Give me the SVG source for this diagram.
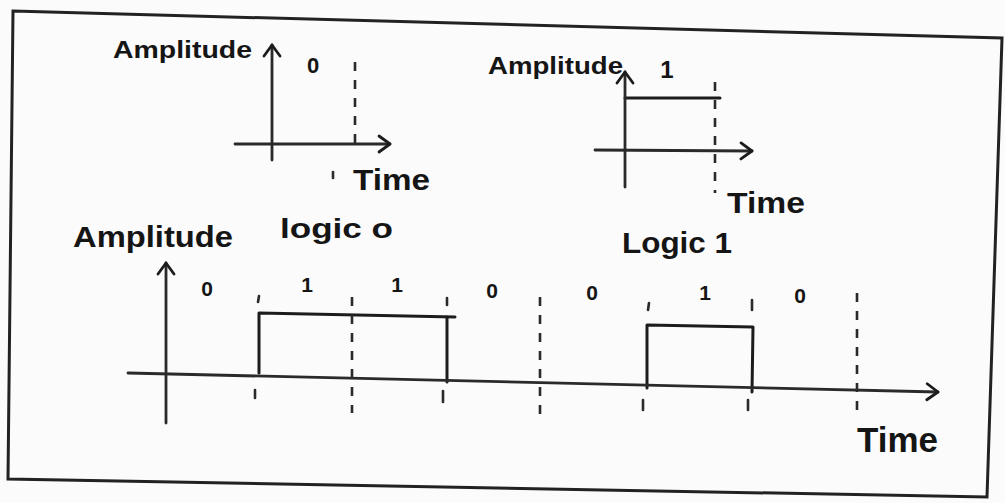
<svg xmlns="http://www.w3.org/2000/svg" width="1005" height="503" viewBox="0 0 1005 503">
  <defs>
    <style>
      .ln { stroke: #1c1c1c; stroke-width: 3; fill: none; stroke-linecap: round; stroke-linejoin: round; }
      .ax { stroke: #2a2a2a; stroke-width: 2.8; fill: none; stroke-linecap: round; }
      .dash { stroke: #2a2a2a; stroke-width: 2.6; fill: none; stroke-dasharray: 9 9; }
      .tick { stroke: #2a2a2a; stroke-width: 2.6; fill: none; stroke-linecap: round; }
      .t { font-family: "Liberation Sans", Arial, sans-serif; fill: #151515; font-weight: bold; }
      .n { font-family: "Liberation Sans", Arial, sans-serif; fill: #151515; font-weight: bold; text-anchor: middle; }
    </style>
    <marker id="chev" viewBox="-14 -10 16 20" refX="0" refY="0" markerWidth="16" markerHeight="20" markerUnits="userSpaceOnUse" orient="auto">
      <polyline points="-11,-8 0,0 -11,8" fill="none" stroke="#1c1c1c" stroke-width="2.8" stroke-linecap="round" stroke-linejoin="round"/>
    </marker>
  </defs>
  <rect x="0" y="0" width="1005" height="503" fill="#fbfbfb"/>

  <g id="frame">
    <polygon points="13,11 1002,38 987,497 8,479" fill="none" stroke="#222" stroke-width="3"/>
  </g>

  <g id="graph-logic0">
    <text class="t" x="113" y="58" font-size="24" textLength="139" lengthAdjust="spacingAndGlyphs">Amplitude</text>
    <text class="n" x="313" y="73" font-size="22">0</text>
    <text class="t" x="353" y="190" font-size="29" textLength="77" lengthAdjust="spacingAndGlyphs">Time</text>
  </g>

  <g id="graph-logic1">
    <text class="t" x="488" y="74" font-size="24" textLength="135" lengthAdjust="spacingAndGlyphs">Amplitude</text>
    <text class="n" x="667" y="78" font-size="24">1</text>
    <text class="t" x="727" y="213" font-size="29" textLength="78" lengthAdjust="spacingAndGlyphs">Time</text>
    <polyline class="ln" points="625,98 720,98"/>
  </g>

  <g id="graph-line-code">
    <text class="t" x="73" y="247" font-size="30" textLength="160" lengthAdjust="spacingAndGlyphs">Amplitude</text>
    <text class="t" x="280" y="238" font-size="27" textLength="113" lengthAdjust="spacingAndGlyphs">logic o</text>
    <text class="t" x="622" y="253" font-size="29" textLength="110" lengthAdjust="spacingAndGlyphs">Logic 1</text>
    <text class="n" x="207" y="296" font-size="21">0</text>
    <text class="n" x="307" y="292" font-size="21">1</text>
    <text class="n" x="397" y="292" font-size="21">1</text>
    <text class="n" x="492" y="298" font-size="21">0</text>
    <text class="n" x="592" y="300" font-size="21">0</text>
    <text class="n" x="705" y="300" font-size="21">1</text>
    <text class="n" x="800" y="303" font-size="21">0</text>
    <text class="t" x="857" y="452" font-size="35" textLength="81" lengthAdjust="spacingAndGlyphs">Time</text>
    <polyline class="ln" points="259,373 259,313 455,317"/>
    <polyline class="ln" points="447,317 447,382"/>
    <polyline class="ln" points="647,388 647,325 753,327 752,392"/>
  </g>

  <g id="connectors">
    <line class="ax" x1="272" y1="160" x2="272" y2="45" marker-end="url(#chev)"/>
    <line class="ax" x1="235" y1="144" x2="390" y2="144" marker-end="url(#chev)"/>
    <line class="dash" x1="355" y1="62" x2="355" y2="143"/>
    <line class="tick" x1="333" y1="172" x2="333" y2="178"/>
    <line class="ax" x1="625" y1="187" x2="625" y2="72" marker-end="url(#chev)"/>
    <line class="ax" x1="595" y1="150" x2="752" y2="151" marker-end="url(#chev)"/>
    <line class="dash" x1="715" y1="82" x2="715" y2="193"/>
    <line class="ax" x1="166" y1="423" x2="166" y2="263" marker-end="url(#chev)"/>
    <line class="ax" x1="128" y1="373" x2="938" y2="392" marker-end="url(#chev)"/>
    <line class="dash" x1="352" y1="297" x2="352" y2="413"/>
    <line class="dash" x1="540" y1="297" x2="540" y2="423"/>
    <line class="dash" x1="857" y1="293" x2="857" y2="418"/>
    <line class="tick" x1="259" y1="296" x2="258" y2="302"/>
    <line class="tick" x1="255" y1="390" x2="255" y2="398"/>
    <line class="tick" x1="447" y1="298" x2="447" y2="305"/>
    <line class="tick" x1="443" y1="391" x2="443" y2="402"/>
    <line class="tick" x1="649" y1="303" x2="648" y2="310"/>
    <line class="tick" x1="643" y1="400" x2="643" y2="410"/>
    <line class="tick" x1="752" y1="300" x2="752" y2="310"/>
    <line class="tick" x1="748" y1="400" x2="748" y2="410"/>
  </g>
</svg>
